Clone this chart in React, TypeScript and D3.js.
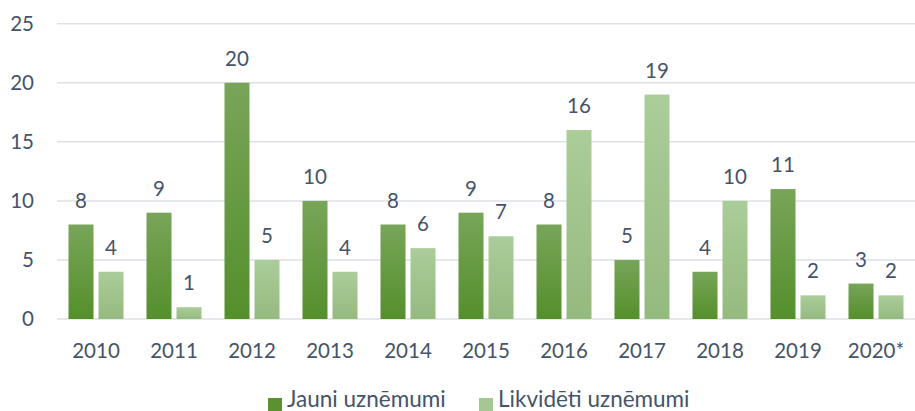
import React from "react";
import * as d3 from "d3";

const categories = ["2010", "2011", "2012", "2013", "2014", "2015", "2016", "2017", "2018", "2019", "2020*"];
const jauni = [8, 9, 20, 10, 8, 9, 8, 5, 4, 11, 3];
const likvideti = [4, 1, 5, 4, 6, 7, 16, 19, 10, 2, 2];
const yTicks = [0, 5, 10, 15, 20, 25];
const seriesNames = ["Jauni uznēmumi", "Likvidēti uznēmumi"];

const W = 915, H = 411;
const left = 57, right = 915, top = 23.7, bottom = 319;
const textColor = "#44546a";
const font = "Lato, 'Open Sans', sans-serif";
const fs = 20.5;

export default function App() {
  const x = d3.scaleBand<string>().domain(categories).range([left, right]).paddingInner(0).paddingOuter(0);
  const y = d3.scaleLinear().domain([0, 25]).range([bottom, top]);
  const barW = 25, gap = 5;
  const series = [
    { name: seriesNames[0], values: jauni, fill: "url(#gDark)", swatch: "#5a922f" },
    { name: seriesNames[1], values: likvideti, fill: "url(#gLight)", swatch: "#a5c893" },
  ];
  return (
    <svg width={W} height={H} style={{ position: "absolute", left: 0, top: 0 }}>
      <defs>
        <linearGradient id="gDark" x1="0" y1="0" x2="0" y2="1">
          <stop offset="0" stopColor="#78a559" />
          <stop offset="1" stopColor="#558f2c" />
        </linearGradient>
        <linearGradient id="gLight" x1="0" y1="0" x2="0" y2="1">
          <stop offset="0" stopColor="#abcd9a" />
          <stop offset="1" stopColor="#95ba7e" />
        </linearGradient>
      </defs>
      <rect width={W} height={H} fill="#fff" />
      {yTicks.map((t) => (
        <g key={t}>
          <line x1={left} x2={right} y1={y(t)} y2={y(t)} stroke="#dde2e8" strokeWidth={1.5} />
          <text x={34} y={y(t)} dy="0.35em" textAnchor="end" fill={textColor} fontFamily={font} fontSize={fs}>{t}</text>
        </g>
      ))}
      {categories.map((c, i) => {
        const cx = x(c)! + x.bandwidth() / 2;
        return (
          <g key={c}>
            {series.map((s, k) => {
              const bx = k === 0 ? cx - gap / 2 - barW : cx + gap / 2;
              const v = s.values[i];
              return (
                <g key={k}>
                  <rect x={bx} y={y(v)} width={barW} height={y(0) - y(v)} fill={s.fill} />
                  <text x={bx + barW / 2} y={y(v) - 17} textAnchor="middle" fill={textColor} fontFamily={font} fontSize={fs}>{v}</text>
                </g>
              );
            })}
            <text x={cx} y={358} textAnchor="middle" fill={textColor} fontFamily={font} fontSize={fs}>{c}</text>
          </g>
        );
      })}
      {series.map((s, k) => {
        const lx = k === 0 ? 268 : 479;
        return (
          <g key={k}>
            <rect x={lx} y={398} width={14} height={14} fill={s.swatch} />
            <text x={lx + 19} y={407} fill={textColor} fontFamily={font} fontSize={22.5}>{s.name}</text>
          </g>
        );
      })}
    </svg>
  );
}
